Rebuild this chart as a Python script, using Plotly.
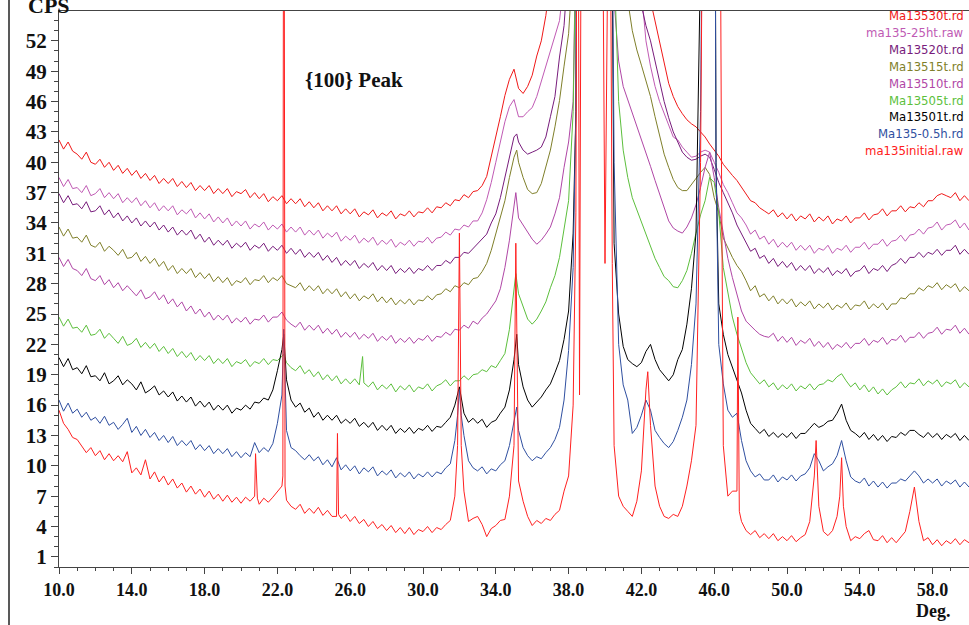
import numpy as np
import plotly.graph_objects as go

# 2-theta sampling grid (deg), 0.25 deg step
DEG = np.linspace(10.0, 60.0, 201)

NAMES = ["Ma13530t.rd", "ma135-25ht.raw", "Ma13520t.rd", "Ma13515t.rd", "Ma13510t.rd",
         "Ma13505t.rd", "Ma13501t.rd", "Ma135-0.5h.rd", "ma135initial.raw"]
COLORS = ["#f01818", "#c05ab4", "#781c7c", "#7f7f2a", "#b046a6",
          "#5cbf3c", "#000000", "#2f4fa0", "#ff2020"]

X_TICKS = [10, 14, 18, 22, 26, 30, 34, 38, 42, 46, 50, 54, 58]
X_TICK_TEXT = ["10.0", "14.0", "18.0", "22.0", "26.0", "30.0", "34.0", "38.0",
               "42.0", "46.0", "50.0", "54.0", "58.0"]
Y_TICKS = [1, 4, 7, 10, 13, 16, 19, 22, 25, 28, 31, 34, 37, 40, 43, 46, 49, 52]

# ---- Ma13530t.rd ----
Y_30 = [
    42.2, 41.3, 42.0, 41.1, 40.8, 40.3, 41.0, 40.0, 39.8, 40.3, 39.5, 40.0,
    39.2, 39.7, 38.9, 39.4, 38.7, 39.2, 38.4, 38.9, 38.2, 38.7, 37.9, 38.4,
    37.9, 38.4, 37.6, 38.1, 37.5, 38.0, 37.2, 37.7, 37.2, 37.7, 36.9, 37.4,
    36.9, 37.4, 36.6, 37.1, 36.9, 37.3, 36.5, 37.0, 36.4, 36.9, 36.1, 36.6,
    36.2, 36.7, 35.9, 36.4, 35.9, 36.4, 35.6, 36.1, 35.5, 36.0, 35.2, 35.7,
    35.2, 35.7, 34.9, 35.4, 34.9, 35.4, 34.6, 35.1, 34.8, 35.3, 34.5, 35.0,
    34.7, 35.2, 34.4, 34.9, 34.7, 35.2, 34.6, 35.1, 35.0, 35.5, 35.0, 35.6,
    35.5, 36.0, 35.7, 36.3, 36.2, 36.8, 36.5, 37.1, 37.2, 37.7, 38.6, 40.5,
    42.5, 44.5, 46.6, 48.2, 49.2, 47.3, 46.8, 47.5, 48.6, 50.5, 52.0, 54.5,
    58.0, 100, 100, 100, 100, 100, 100, 100, 100, 100, 100, 100,
    100, 100, 100, 100, 100, 100, 100, 100, 100, 100, 56.0, 54.0,
    52.0, 50.0, 47.8, 46.5, 45.5, 44.8, 44.2, 43.8, 43.5, 43.0, 42.5, 41.8,
    41.2, 40.6, 39.8, 39.2, 38.7, 38.2, 37.5, 36.8, 36.2, 36.0, 35.5, 35.2,
    34.9, 35.3, 34.6, 35.0, 34.4, 34.9, 34.2, 34.7, 34.4, 34.9, 34.1, 34.6,
    34.2, 34.7, 33.9, 34.4, 34.2, 34.7, 34.0, 34.5, 34.5, 35.0, 34.3, 34.8,
    34.9, 35.4, 34.7, 35.2, 35.2, 35.7, 35.1, 35.6, 35.5, 36.0, 35.6, 36.2,
    36.2, 36.7, 36.9, 36.7, 36.5, 37.0, 36.2, 36.7, 36.2]
EX_X_30 = []
EX_Y_30 = []

# ---- ma135-25ht.raw ----
Y_25 = [
    38.5, 37.6, 38.3, 37.4, 37.5, 37.0, 37.7, 36.7, 36.9, 37.4, 36.5, 37.0,
    36.4, 36.9, 36.0, 36.5, 36.0, 36.5, 35.7, 36.2, 35.5, 36.0, 35.2, 35.7,
    35.2, 35.7, 34.8, 35.3, 34.9, 35.4, 34.5, 35.0, 34.4, 34.9, 34.1, 34.6,
    34.0, 34.5, 33.7, 34.2, 33.7, 34.2, 33.4, 33.9, 33.6, 34.1, 33.3, 33.8,
    33.4, 33.9, 33.1, 33.6, 33.1, 33.6, 32.8, 33.3, 32.8, 33.3, 32.5, 33.0,
    32.6, 33.1, 32.2, 32.7, 32.3, 32.8, 32.0, 32.5, 32.1, 32.6, 31.8, 32.3,
    31.9, 32.4, 31.6, 32.1, 31.8, 32.3, 31.7, 32.2, 32.1, 32.6, 32.0, 32.5,
    32.6, 33.1, 32.8, 33.4, 33.3, 33.8, 33.6, 34.2, 34.2, 35.0, 36.3, 38.0,
    40.0, 42.0, 44.0, 45.5, 46.2, 44.5, 44.5, 45.0, 45.4, 46.5, 48.0, 49.4,
    51.0, 52.5, 54.0, 58.0, 100, 100, 100, 100, 100, 100, 100, 100,
    100, 100, 100, 100, 100, 100, 100, 100, 57.0, 52.0, 49.5, 47.5,
    46.0, 44.8, 43.5, 42.5, 42.2, 41.5, 41.0, 40.5, 40.6, 41.0, 41.2, 41.0,
    40.0, 39.0, 37.8, 37.0, 36.0, 35.0, 34.5, 33.8, 32.9, 33.3, 32.4, 32.7,
    31.9, 32.4, 31.6, 32.1, 31.6, 32.1, 31.3, 31.8, 31.3, 31.8, 31.0, 31.5,
    31.3, 31.8, 31.0, 31.5, 31.3, 31.8, 31.1, 31.6, 31.6, 32.1, 31.4, 31.9,
    31.9, 32.4, 31.7, 32.2, 32.3, 32.8, 32.2, 32.8, 32.9, 33.4, 32.9, 33.5,
    33.6, 34.1, 33.3, 33.8, 33.9, 34.3, 33.5, 34.0, 33.3]
EX_X_25 = []
EX_Y_25 = []

# ---- Ma13520t.rd ----
Y_20 = [
    36.9, 36.0, 36.7, 35.8, 35.9, 35.4, 36.1, 35.1, 35.2, 35.7, 34.8, 35.3,
    34.5, 35.0, 34.2, 34.7, 34.0, 34.5, 33.7, 34.2, 33.6, 34.1, 33.3, 33.8,
    33.1, 33.6, 32.8, 33.3, 32.8, 33.3, 32.4, 32.9, 32.1, 32.6, 31.8, 32.3,
    31.8, 32.3, 31.5, 32.0, 31.6, 32.1, 31.3, 31.8, 31.5, 32.0, 31.2, 31.7,
    31.3, 31.8, 31.0, 31.5, 30.9, 31.4, 30.6, 31.1, 30.6, 31.1, 30.3, 30.8,
    30.1, 30.6, 29.8, 30.3, 29.8, 30.3, 29.5, 30.0, 29.6, 30.1, 29.3, 29.8,
    29.3, 29.8, 29.0, 29.5, 29.1, 29.6, 29.0, 29.5, 29.3, 29.8, 29.3, 29.8,
    29.8, 30.3, 30.0, 30.6, 30.6, 31.1, 31.0, 31.5, 31.9, 32.5, 32.9, 34.0,
    34.9, 36.5, 38.5, 40.8, 42.5, 42.0, 41.2, 40.8, 41.0, 41.2, 41.5, 42.5,
    44.5, 46.5, 50.4, 53.5, 60.0, 100, 100, 100, 100, 100, 100, 100,
    100, 100, 100, 100, 100, 100, 90.0, 60.0, 55.5, 53.5, 52.0, 50.0,
    47.8, 46.0, 44.4, 43.0, 42.0, 41.0, 40.5, 40.2, 40.3, 40.6, 40.8, 40.5,
    39.3, 38.0, 37.0, 36.0, 35.0, 33.8, 32.9, 32.0, 31.2, 31.5, 30.5, 30.8,
    30.0, 30.5, 29.7, 30.2, 29.6, 30.1, 29.3, 29.8, 29.3, 29.8, 29.0, 29.5,
    29.1, 29.6, 28.8, 29.3, 29.0, 29.5, 28.7, 29.2, 29.3, 29.8, 29.0, 29.5,
    29.3, 29.8, 29.2, 29.8, 30.0, 30.5, 30.0, 30.6, 30.6, 31.1, 30.6, 31.1,
    30.9, 31.4, 30.8, 31.3, 31.3, 31.8, 30.9, 31.4, 30.9]
EX_X_20 = [35.15]
EX_Y_20 = [42.8]

# ---- Ma13515t.rd ----
Y_15 = [
    33.6, 32.7, 33.4, 32.5, 32.6, 32.1, 32.8, 31.8, 31.6, 32.1, 31.2, 31.7,
    31.3, 30.8, 31.4, 30.5, 30.6, 31.1, 30.2, 30.7, 30.0, 30.5, 29.7, 30.2,
    29.3, 29.8, 29.0, 29.5, 29.0, 29.5, 28.6, 29.1, 28.5, 29.0, 28.2, 28.7,
    28.1, 28.6, 27.8, 28.3, 28.1, 28.6, 27.9, 28.4, 28.3, 28.8, 28.1, 28.6,
    28.3, 28.8, 28.0, 27.8, 27.6, 28.1, 27.3, 27.8, 27.3, 27.8, 27.0, 27.5,
    27.0, 27.5, 26.7, 27.2, 26.5, 27.0, 26.3, 26.8, 26.5, 27.0, 26.2, 26.7,
    26.1, 26.6, 25.9, 26.4, 26.0, 26.5, 25.9, 26.4, 26.3, 26.8, 26.4, 26.9,
    27.0, 27.5, 27.2, 27.8, 27.6, 28.1, 27.9, 28.5, 28.6, 29.2, 30.0, 31.3,
    32.9, 34.5, 36.2, 38.5, 40.5, 40.0, 38.5, 37.3, 36.9, 37.0, 37.9, 39.5,
    41.2, 43.5, 46.1, 49.5, 52.7, 60.0, 100, 100, 100, 100, 100, 100,
    100, 100, 100, 100, 70.0, 56.0, 53.0, 51.1, 49.6, 48.0, 46.5, 44.5,
    42.5, 40.8, 39.5, 38.3, 37.5, 37.2, 37.2, 37.8, 38.5, 39.0, 39.5, 38.8,
    36.5, 35.0, 32.5, 31.5, 30.6, 29.8, 29.2, 28.3, 27.3, 27.8, 26.7, 27.0,
    26.3, 26.8, 26.0, 26.5, 26.0, 26.5, 25.7, 26.2, 25.8, 26.3, 25.5, 26.0,
    25.6, 26.1, 25.4, 25.9, 25.6, 26.1, 25.4, 25.9, 25.8, 26.3, 25.5, 26.0,
    25.6, 26.1, 25.4, 26.0, 26.0, 26.6, 26.5, 27.0, 27.0, 27.6, 27.3, 27.8,
    27.6, 28.1, 27.4, 27.9, 27.6, 28.0, 27.2, 27.7, 27.3]
EX_X_15 = [35.15]
EX_Y_15 = [41.2]

# ---- Ma13510t.rd ----
Y_10 = [
    30.6, 29.7, 30.4, 29.5, 29.3, 28.8, 29.5, 28.5, 28.3, 28.8, 27.9, 28.4,
    27.6, 28.1, 27.3, 27.8, 27.3, 26.8, 27.4, 26.5, 26.7, 27.2, 26.4, 26.9,
    26.0, 26.5, 25.7, 26.2, 25.3, 25.8, 25.0, 25.5, 24.7, 25.2, 24.4, 24.9,
    24.4, 24.9, 24.1, 24.6, 24.2, 24.7, 24.0, 24.5, 24.4, 24.9, 24.2, 24.7,
    24.7, 25.2, 24.4, 24.0, 23.7, 24.2, 23.4, 23.9, 23.4, 23.9, 23.1, 23.6,
    23.0, 23.5, 22.7, 23.2, 22.7, 23.2, 22.5, 23.0, 22.6, 23.1, 22.3, 22.8,
    22.4, 22.9, 22.1, 22.6, 22.2, 22.7, 22.1, 22.6, 22.4, 22.9, 22.3, 22.8,
    22.7, 23.2, 22.9, 23.5, 23.4, 23.9, 23.6, 24.3, 24.0, 24.6, 25.0, 25.6,
    26.3, 27.5, 29.6, 32.3, 36.0, 34.5, 33.8, 33.0, 32.4, 31.9, 32.3, 32.9,
    33.6, 34.9, 36.5, 39.5, 42.0, 46.0, 100, 100, 100, 100, 100, 100,
    100, 100, 56.0, 50.0, 47.5, 46.2, 45.0, 43.5, 42.3, 41.0, 39.6, 38.2,
    36.8, 35.5, 34.2, 33.5, 33.2, 33.0, 33.6, 34.5, 35.8, 37.5, 39.5, 41.0,
    38.5, 35.5, 32.9, 30.5, 28.6, 27.0, 25.3, 24.3, 23.8, 23.4, 23.0, 22.8,
    22.7, 23.1, 22.3, 22.8, 22.2, 22.7, 21.9, 22.4, 22.1, 22.6, 21.8, 22.3,
    21.7, 22.2, 21.5, 22.0, 21.7, 22.2, 21.6, 22.1, 22.1, 22.6, 21.9, 22.4,
    22.2, 22.7, 22.0, 22.5, 22.4, 22.9, 22.2, 22.7, 22.7, 23.2, 22.6, 23.1,
    23.2, 23.7, 23.0, 23.5, 23.4, 23.9, 23.1, 23.6, 23.0]
EX_X_10 = [35.1]
EX_Y_10 = [37.0]

# ---- Ma13505t.rd ----
Y_05 = [
    24.7, 23.8, 24.5, 23.6, 23.7, 23.2, 23.9, 22.9, 23.0, 23.5, 22.6, 23.1,
    22.6, 22.1, 22.8, 21.9, 22.1, 22.6, 21.7, 22.2, 21.6, 22.1, 21.3, 21.8,
    21.1, 21.6, 20.8, 21.3, 20.7, 21.2, 20.4, 20.9, 20.4, 20.9, 20.1, 20.6,
    20.1, 20.6, 19.8, 20.3, 20.1, 20.5, 19.8, 20.3, 20.1, 20.6, 20.0, 20.5,
    20.4, 20.9, 20.2, 19.7, 19.4, 19.9, 19.1, 19.5, 18.8, 19.3, 18.5, 19.0,
    18.4, 18.9, 18.1, 18.6, 18.1, 18.6, 18.0, 18.2, 17.8, 18.3, 17.5, 18.0,
    17.6, 18.1, 17.3, 17.9, 17.5, 18.0, 17.3, 17.8, 17.6, 18.1, 17.4, 17.9,
    18.1, 18.5, 17.9, 18.4, 18.4, 18.9, 18.5, 19.0, 19.1, 19.5, 19.3, 19.9,
    19.7, 20.4, 21.1, 23.5, 27.5, 27.0, 25.7, 24.5, 24.0, 24.5, 25.3, 26.2,
    27.6, 28.8, 30.6, 33.5, 36.2, 45.0, 100, 100, 100, 100, 100, 100,
    100, 100, 60.0, 46.0, 41.2, 38.5, 36.5, 35.3, 34.0, 32.8, 31.5, 30.5,
    29.6, 28.7, 28.3, 27.7, 27.6, 28.3, 29.3, 31.0, 33.0, 34.8, 36.2, 38.5,
    38.0, 35.0, 29.6, 27.0, 24.7, 23.0, 21.5, 20.2, 19.2, 18.6, 18.1, 18.5,
    17.8, 18.2, 17.5, 18.0, 17.6, 18.1, 17.4, 17.9, 17.6, 18.1, 17.5, 18.0,
    18.1, 18.5, 18.3, 18.8, 19.1, 18.4, 17.8, 18.2, 17.5, 18.0, 17.3, 17.8,
    17.1, 17.6, 17.0, 17.5, 17.8, 18.3, 17.7, 18.2, 18.1, 18.6, 17.9, 18.4,
    18.1, 18.5, 17.8, 18.3, 18.1, 18.5, 17.7, 18.2, 17.8]
EX_X_05 = [22.35, 26.68, 35.1]
EX_Y_05 = [21.0, 20.8, 29.0]

# ---- Ma13501t.rd ----
Y_01 = [
    20.7, 19.8, 20.6, 19.5, 19.7, 19.1, 19.9, 18.8, 18.9, 18.4, 19.2, 18.1,
    18.4, 18.9, 18.0, 18.5, 18.1, 17.5, 18.3, 17.2, 17.5, 17.9, 17.0, 17.4,
    16.8, 17.3, 16.4, 16.9, 16.3, 16.8, 15.9, 16.4, 15.8, 16.3, 15.5, 16.0,
    15.5, 16.0, 15.2, 15.7, 15.5, 16.0, 15.6, 16.3, 16.2, 16.7, 16.5, 17.5,
    19.4, 21.5, 18.5, 16.5, 15.8, 16.2, 15.3, 15.7, 14.8, 15.3, 14.5, 15.0,
    14.5, 15.0, 14.2, 14.6, 14.2, 14.7, 13.9, 14.3, 13.8, 14.3, 13.5, 14.0,
    13.5, 14.0, 13.2, 13.7, 13.3, 13.8, 13.2, 13.7, 13.5, 14.0, 13.4, 13.9,
    13.8, 14.3, 14.8, 16.0, 17.8, 15.2, 14.3, 14.7, 14.2, 14.6, 13.8, 14.3,
    14.5, 15.2, 15.8, 17.5, 20.5, 20.0, 17.8, 16.5, 15.8, 16.3, 16.8, 17.5,
    18.1, 19.2, 20.4, 22.5, 25.3, 33.0, 100, 100, 100, 100, 100, 100,
    100, 100, 32.0, 25.0, 21.8, 20.5, 20.1, 19.8, 20.2, 21.3, 22.0, 20.5,
    19.5, 19.0, 18.4, 19.0, 20.5, 21.5, 24.0, 27.5, 33.0, 60.0, 100, 100,
    100, 26.0, 23.0, 21.0, 19.8, 18.5, 17.2, 15.5, 14.2, 13.7, 13.2, 13.6,
    12.9, 13.3, 12.8, 13.2, 12.8, 13.3, 12.7, 13.2, 13.2, 13.7, 14.2, 13.8,
    14.0, 14.4, 14.5, 15.2, 16.1, 14.5, 13.5, 13.2, 12.8, 13.3, 12.6, 13.1,
    12.5, 13.0, 12.4, 12.9, 12.8, 13.3, 13.0, 13.5, 13.5, 13.1, 12.8, 13.3,
    12.8, 13.2, 12.6, 13.1, 12.8, 13.2, 12.5, 13.0, 12.5]
EX_X_01 = [22.35, 35.15, 38.4, 46.1]
EX_Y_01 = [23.0, 23.0, 45.0, 40.0]

# ---- Ma135-0.5h.rd ----
Y_H05 = [
    16.5, 15.4, 16.2, 15.2, 15.6, 14.8, 15.3, 14.5, 14.8, 14.2, 14.9, 14.0,
    14.3, 13.6, 14.1, 14.7, 13.3, 13.9, 13.0, 13.6, 12.8, 13.3, 12.5, 13.0,
    12.3, 12.9, 12.0, 12.5, 12.0, 12.5, 11.6, 12.1, 11.5, 12.0, 11.2, 11.7,
    11.2, 11.7, 10.9, 11.4, 10.8, 11.3, 10.9, 12.3, 11.3, 11.8, 11.4, 12.2,
    14.2, 17.0, 13.5, 11.8, 11.5, 11.0, 10.6, 11.1, 10.5, 10.9, 10.1, 10.6,
    9.9, 10.8, 9.6, 10.1, 9.5, 10.0, 9.2, 9.8, 9.4, 9.9, 9.0, 9.5,
    9.1, 9.6, 8.8, 9.3, 8.9, 9.4, 8.7, 9.2, 8.9, 9.4, 8.9, 9.4,
    9.2, 9.8, 10.2, 12.5, 17.5, 13.0, 10.5, 9.8, 9.5, 9.9, 9.2, 9.7,
    9.5, 10.1, 10.5, 12.0, 14.5, 13.5, 11.8, 11.0, 10.5, 10.9, 10.7, 11.3,
    11.8, 12.6, 13.8, 16.5, 21.4, 29.6, 100, 100, 100, 100, 100, 100,
    100, 100, 40.0, 22.0, 18.0, 16.5, 13.2, 13.8, 15.0, 16.5, 15.5, 13.5,
    12.8, 12.2, 11.8, 12.4, 13.5, 14.8, 16.5, 20.0, 26.0, 45.0, 100, 100,
    90.0, 22.0, 18.1, 15.5, 14.8, 15.2, 12.5, 10.5, 9.5, 8.9, 9.2, 8.6,
    8.6, 9.1, 8.4, 8.9, 8.6, 9.1, 8.5, 9.0, 9.2, 9.8, 11.2, 10.5,
    9.5, 9.9, 10.2, 11.0, 12.5, 10.5, 8.9, 8.5, 8.3, 8.8, 8.0, 8.5,
    7.9, 8.4, 7.8, 8.3, 8.3, 8.7, 8.5, 9.0, 9.5, 9.0, 8.3, 8.7,
    8.3, 8.7, 8.0, 8.5, 8.2, 8.6, 7.9, 8.4, 7.9]
EX_X_H05 = [22.35, 31.9, 32.1, 35.15, 38.4, 46.1]
EX_Y_H05 = [23.5, 15.0, 15.0, 15.8, 45.0, 40.0]

# ---- ma135initial.raw ----
Y_INIT = [
    15.5, 14.2, 13.6, 12.8, 12.6, 12.0, 11.3, 11.8, 11.0, 11.5, 10.6, 11.2,
    10.5, 11.0, 10.4, 11.4, 9.3, 9.8, 9.1, 10.6, 8.7, 9.4, 8.4, 9.0,
    8.1, 8.7, 7.8, 8.3, 7.4, 8.0, 7.2, 7.7, 6.9, 7.5, 6.7, 7.2,
    6.5, 7.1, 6.4, 6.9, 6.3, 6.9, 6.5, 7.0, 6.2, 6.8, 6.4, 6.9,
    7.4, 8.0, 6.6, 6.0, 5.7, 6.2, 5.3, 5.8, 5.3, 5.9, 5.1, 5.6,
    5.0, 5.0, 4.8, 5.2, 4.5, 5.0, 4.3, 4.7, 4.0, 4.5, 3.8, 4.2,
    3.6, 4.1, 3.4, 3.9, 3.3, 3.9, 3.2, 3.7, 3.5, 4.0, 3.4, 3.9,
    3.7, 4.2, 4.6, 7.0, 33.0, 7.5, 4.5, 4.8, 5.0, 4.2, 3.0, 3.8,
    4.1, 4.6, 4.7, 7.0, 12.0, 8.5, 6.5, 5.0, 4.1, 4.6, 4.3, 4.8,
    4.6, 5.2, 5.6, 7.5, 9.0, 16.0, 95.0, 100, 100, 100, 100, 100,
    30.0, 80.0, 12.0, 7.0, 6.0, 5.5, 5.0, 6.5, 9.5, 17.5, 14.0, 8.0,
    6.0, 5.0, 4.8, 5.2, 5.0, 6.0, 8.0, 10.5, 14.0, 40.0, 100, 100,
    100, 100, 12.0, 7.0, 7.5, 7.5, 4.5, 3.6, 3.2, 3.6, 2.9, 3.3,
    2.8, 3.3, 2.6, 3.0, 2.6, 3.1, 2.5, 2.9, 3.2, 4.5, 9.0, 6.0,
    3.5, 3.1, 3.6, 5.0, 10.8, 4.0, 2.6, 3.0, 2.8, 3.3, 3.6, 2.7,
    2.6, 3.1, 2.4, 2.9, 2.4, 3.0, 3.5, 5.5, 7.9, 4.5, 2.6, 2.9,
    2.2, 2.7, 2.1, 2.6, 2.3, 2.8, 2.2, 2.7, 2.4]
EX_X_INIT = [20.8, 20.9, 22.3, 22.35, 22.42, 25.3, 25.36, 31.9, 32.1, 35.1, 35.2,
             38.4, 38.6, 40.4, 42.35, 46.4, 47.3, 47.38, 51.6, 52.9, 53.1]
EX_Y_INIT = [11.2, 6.8, 9.0, 95.0, 8.0, 13.2, 5.2, 12.0, 12.0, 32.0, 12.0,
             35.0, 17.0, 30.0, 19.3, 40.0, 24.7, 5.5, 12.5, 7.0, 6.0]

SERIES = [(Y_30, EX_X_30, EX_Y_30), (Y_25, EX_X_25, EX_Y_25), (Y_20, EX_X_20, EX_Y_20),
          (Y_15, EX_X_15, EX_Y_15), (Y_10, EX_X_10, EX_Y_10), (Y_05, EX_X_05, EX_Y_05),
          (Y_01, EX_X_01, EX_Y_01), (Y_H05, EX_X_H05, EX_Y_H05), (Y_INIT, EX_X_INIT, EX_Y_INIT)]


def merged(grid_y, ex_x, ex_y):
    xs = np.concatenate([DEG, np.asarray(ex_x, dtype=float)])
    ys = np.concatenate([np.asarray(grid_y, dtype=float), np.asarray(ex_y, dtype=float)])
    order = np.argsort(xs, kind="stable")
    return xs[order], ys[order]


fig = go.Figure()
for name, color, (gy, ex, ey) in zip(NAMES, COLORS, SERIES):
    if len(gy) != len(DEG):
        print("length mismatch", name, len(gy))
        gy = (list(gy) + [gy[-1]] * len(DEG))[:len(DEG)]
    x, y = merged(gy, ex, ey)
    fig.add_trace(go.Scatter(x=x, y=y, mode="lines", name=name,
                             line=dict(color=color, width=1), hoverinfo="skip"))

PLOT_L, PLOT_T, PLOT_W, PLOT_H = 59, 11, 910, 556

annotations = []
for i, (name, color) in enumerate(zip(NAMES, COLORS)):
    py = 16 + i * 16.9
    annotations.append(dict(
        text=name, xref="paper", yref="paper", x=1.0 - 3 / PLOT_W,
        y=1 - (py - PLOT_T) / PLOT_H, xanchor="right", yanchor="middle",
        showarrow=False, font=dict(family="DejaVu Sans", size=11.7, color=color)))

annotations.append(dict(text="{100} Peak", x=23.4, y=48.1, xref="x", yref="y",
                        xanchor="left", yanchor="middle", showarrow=False,
                        font=dict(family="Liberation Serif", size=21, color="#111", weight="bold")))
annotations.append(dict(text="Deg.", xref="paper", yref="paper",
                        x=(933 - PLOT_L) / PLOT_W, y=1 - (611 - PLOT_T) / PLOT_H,
                        xanchor="center", yanchor="middle", showarrow=False,
                        font=dict(family="Liberation Serif", size=18, color="#111", weight="bold")))
annotations.append(dict(text="CPS", xref="paper", yref="paper",
                        x=(49 - PLOT_L) / PLOT_W, y=1 - (20 - PLOT_T) / PLOT_H,
                        xanchor="center", yanchor="bottom", showarrow=False,
                        font=dict(family="Liberation Serif", size=22, color="#111", weight="bold")))

fig.update_layout(
    width=969, height=625,
    margin=dict(l=PLOT_L, r=0, t=PLOT_T, b=625 - PLOT_T - PLOT_H),
    plot_bgcolor="white", paper_bgcolor="white", showlegend=False,
    annotations=annotations,
    shapes=[dict(type="line", xref="paper", yref="paper",
                 x0=(9 - PLOT_L) / PLOT_W, x1=(9 - PLOT_L) / PLOT_W,
                 y0=-(625 - PLOT_T - PLOT_H) / PLOT_H, y1=1 + PLOT_T / PLOT_H,
                 line=dict(color="#222", width=1.5))],
)
fig.update_xaxes(
    range=[10, 60], tickvals=X_TICKS, ticktext=X_TICK_TEXT,
    ticks="outside", ticklen=6, tickwidth=1, tickcolor="#444",
    showline=True, linecolor="#444", linewidth=1, mirror=True,
    showgrid=False, zeroline=False,
    tickfont=dict(family="Liberation Serif", size=18, color="#111", weight="bold"),
    minor=dict(tick0=10, dtick=1, ticks="outside", ticklen=3, tickcolor="#444", showgrid=False),
)
fig.update_yaxes(
    range=[0, 54.95], tickvals=Y_TICKS,
    ticks="outside", ticklen=7, tickwidth=1, tickcolor="#444",
    showline=True, linecolor="#444", linewidth=1,
    showgrid=False, zeroline=False,
    tickfont=dict(family="Liberation Serif", size=21, color="#111", weight="bold"),
    minor=dict(tick0=0, dtick=1, ticks="outside", ticklen=4, tickcolor="#444", showgrid=False),
)

fig.write_html("out.html")
